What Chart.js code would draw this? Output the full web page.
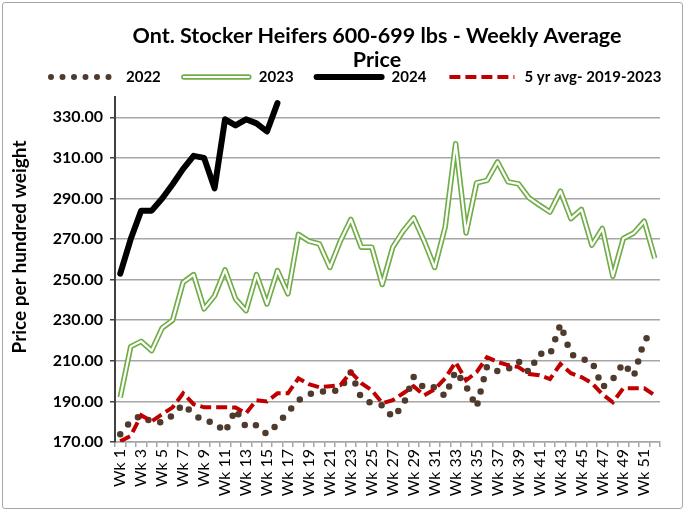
<!DOCTYPE html>
<html>
<head>
<meta charset="utf-8">
<script src="https://cdn.jsdelivr.net/npm/chart.js@4.4.0/dist/chart.umd.min.js"></script>
<style>
body { margin: 0; background: #fff; }
#wrap { position: relative; width: 686px; height: 512px; }
#marco { position: absolute; left: 2px; top: 2px; width: 679px; height: 505px; border: 1px solid #a6a6a6; border-radius: 3px; pointer-events: none; }
</style>
</head>
<body>
<div id="wrap"><canvas id="grafico" width="686" height="512"></canvas><div id="marco"></div></div>
<script>
// Semanas (categorias)
var semanas = [];
for (var i = 1; i <= 52; i++) semanas.push('Wk ' + i);

// Precios por semana
var datos2022 = [173.8, 180.2, 183.2, 179.7, 179.7, 183.2, 188.6, 183.7, 180.2, 179.7,
    174.8, 186, 177.3, 178.3, 173.8, 178.7, 184.7, 190.6, 193.5, 195,
    194.5, 196, 204.4, 191.6, 189.1, 188.1, 182.2, 188.1, 202, 196.5,
    197, 192.6, 204.9, 197.5, 187.1, 207.4, 204.9, 205.9, 209.8, 204.4,
    213.6, 213, 228, 213.3, 210.8, 209.8, 197, 201, 208.9, 202.4,
    220, 225];
var datos2023 = [192, 217, 219.6, 215, 226.2, 230, 248.7, 252.5, 235.6, 242,
    254.8, 240.5, 234.7, 252.5, 238, 254.5, 243, 272.3, 269, 267.6,
    256, 269, 279.7, 266, 266, 247.6, 266, 274, 280.4, 269,
    256, 275.9, 317, 273, 297.7, 298.9, 308, 298.2, 297.2, 290.3,
    286.7, 283.3, 293.6, 280.1, 284.6, 267, 275.2, 251.7, 270.3, 273,
    278.8, 260.6];
var datos2024 = [253, 270, 284, 284, 290, 297, 304.6, 311, 310, 295,
    329, 326, 329, 327, 323, 337];
var promedio5 = [170.3, 173, 183.2, 180.2, 183.7, 187.1, 194, 188.6, 187.1, 187.1,
    187.1, 187, 184.2, 190.6, 190, 194, 194, 201.4, 198.5, 197,
    197.5, 198, 204.4, 199, 195.5, 189.1, 190.6, 194, 197.5, 193,
    196, 201.4, 209.3, 200.4, 204.4, 211.8, 209.4, 207.9, 206.9, 203.5,
    202.9, 201, 208.4, 203.9, 202, 199, 193.6, 189.6, 196.5, 196.5,
    196.5, 193];

// Eje Y
var ejeYMin = 170;
var ejeYMax = 340;
var ticksY = [170, 190, 210, 230, 250, 270, 290, 310, 330];

var titulo = ['Ont. Stocker Heifers 600-699 lbs - Weekly Average', 'Price'];
var tituloY = 'Price per hundred weight';

Chart.defaults.font.family = 'Lato';

// Leyenda y titulos dibujados a mano
var textos = {
    id: 'textos',
    afterDraw: function (chart) {
        var c = chart.ctx;
        c.save();
        c.fillStyle = '#000';
        c.textAlign = 'center';
        c.textBaseline = 'middle';
        c.font = 'bold 21.5px Lato';
        c.fillText(titulo[0], 377, 36);
        c.fillText(titulo[1], 377, 60);

        c.save();
        c.translate(20, 247);
        c.rotate(-Math.PI / 2);
        c.font = 'bold 19px Lato';
        c.fillText(tituloY, 0, 0);
        c.restore();

        // muestras de la leyenda
        var y = 77;
        var x = 48;
        var items = [
            { label: '2022', tipo: 'puntos' },
            { label: '2023', tipo: 'doble' },
            { label: '2024', tipo: 'negra' },
            { label: '5 yr avg- 2019-2023', tipo: 'roja' }
        ];
        c.font = 'bold 15px Lato';
        c.textAlign = 'left';
        items.forEach(function (it) {
            var x1 = x + 71;
            c.beginPath();
            c.moveTo(x + 3, y);
            c.lineTo(x1 - 3, y);
            if (it.tipo === 'puntos') {
                c.setLineDash([0, 11.5]);
                c.lineCap = 'round';
                c.lineWidth = 6;
                c.strokeStyle = '#4e3b2e';
                c.stroke();
            } else if (it.tipo === 'doble') {
                c.setLineDash([]);
                c.lineCap = 'round';
                c.lineWidth = 5.5;
                c.strokeStyle = '#70ad47';
                c.stroke();
                c.lineWidth = 2.2;
                c.strokeStyle = '#fff';
                c.stroke();
            } else if (it.tipo === 'negra') {
                c.setLineDash([]);
                c.lineCap = 'round';
                c.lineWidth = 6;
                c.strokeStyle = '#000';
                c.stroke();
            } else {
                c.setLineDash([11, 5]);
                c.lineCap = 'butt';
                c.lineWidth = 4;
                c.strokeStyle = '#c00000';
                c.stroke();
            }
            c.setLineDash([]);
            c.fillText(it.label, x1 + 7, y);
            x = x1 + 7 + c.measureText(it.label).width + 20;
        });
        c.restore();
    }
};

var contexto = document.getElementById('grafico').getContext('2d');

var grafico = new Chart(contexto, {
    type: 'line',
    data: {
        labels: semanas,
        datasets: [
            {
                label: '5 yr avg- 2019-2023',
                data: promedio5,
                borderColor: '#c00000',
                borderWidth: 4,
                borderDash: [11, 5],
                pointRadius: 0,
                order: 0
            },
            {
                label: '2024',
                data: datos2024,
                borderColor: '#000',
                borderWidth: 6,
                borderCapStyle: 'round',
                borderJoinStyle: 'round',
                pointRadius: 0,
                order: 1
            },
            {
                label: '2023 borde',
                data: datos2023,
                borderColor: '#fff',
                borderWidth: 2.2,
                borderJoinStyle: 'round',
                pointRadius: 0,
                order: 2
            },
            {
                label: '2023',
                data: datos2023,
                borderColor: '#70ad47',
                borderWidth: 5.5,
                borderJoinStyle: 'round',
                pointRadius: 0,
                order: 3
            },
            {
                label: '2022',
                data: datos2022,
                borderColor: '#4e3b2e',
                borderWidth: 6.5,
                borderDash: [0, 12.5],
                borderCapStyle: 'round',
                pointRadius: 0,
                order: 4
            }
        ]
    },
    options: {
        responsive: false,
        animation: false,
        devicePixelRatio: 1,
        layout: { padding: { top: 97, right: 26, left: 0, bottom: 0 } },
        plugins: {
            legend: { display: false },
            title: { display: false },
            tooltip: { enabled: false }
        },
        scales: {
            x: {
                offset: true,
                grid: { offset: true, drawOnChartArea: false, tickLength: 5, color: '#a6a6a6', lineWidth: 1.5 },
                border: { color: '#a6a6a6', width: 1.5 },
                ticks: {
                    autoSkip: false,
                    maxRotation: 90,
                    minRotation: 90,
                    padding: 2,
                    color: '#000',
                    font: { size: 16 },
                    callback: function (v, i) { return i % 2 === 0 ? semanas[i] : ''; }
                },
                afterFit: function (s) { s.height = 70; }
            },
            y: {
                min: ejeYMin,
                max: ejeYMax,
                grid: { color: '#a6a6a6', lineWidth: 1.5, tickLength: 5, tickColor: '#404040' },
                border: { color: '#404040', width: 2 },
                afterBuildTicks: function (s) {
                    s.ticks = ticksY.map(function (v) { return { value: v }; });
                },
                ticks: {
                    padding: 7,
                    color: '#000',
                    font: { size: 16, weight: 'bold' },
                    callback: function (v) { return v.toFixed(2); }
                },
                afterFit: function (s) { s.width = 115; }
            }
        }
    },
    plugins: [textos]
});
</script>
</body>
</html>
